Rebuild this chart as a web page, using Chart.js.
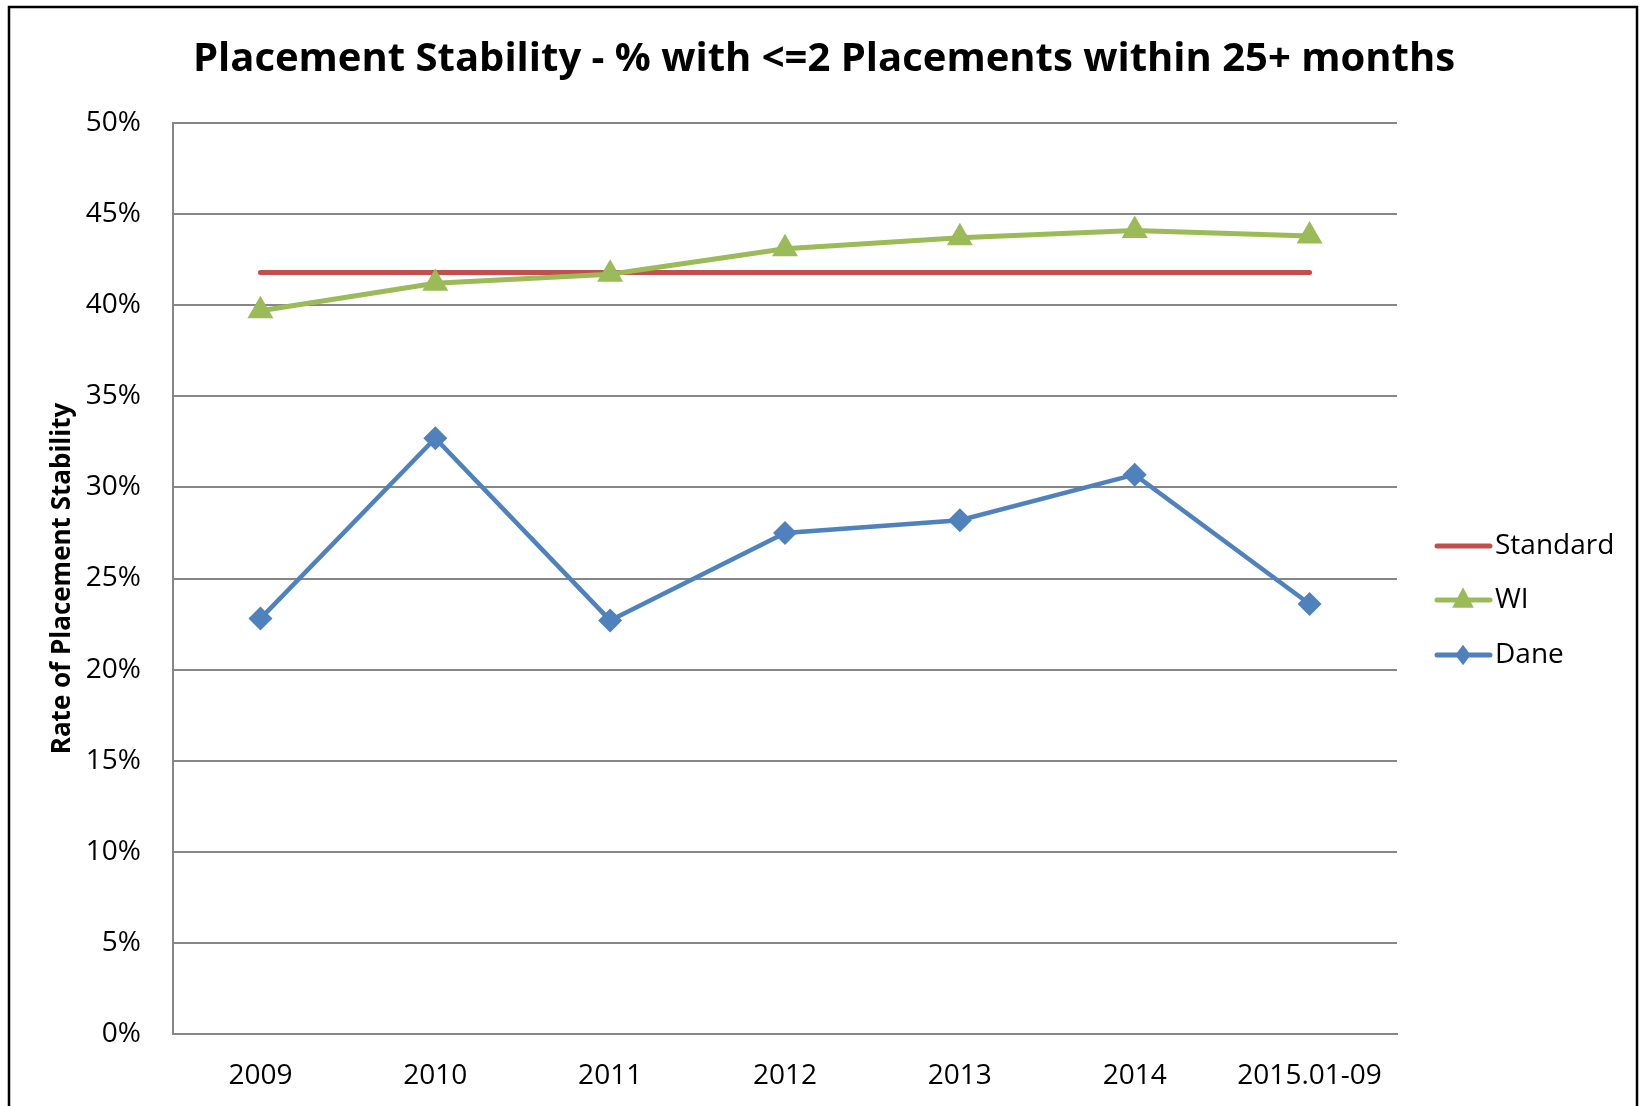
<!DOCTYPE html>
<html>
<head>
<meta charset="utf-8">
<title>Placement Stability</title>
<script src="https://cdn.jsdelivr.net/npm/chart.js@4"></script>
<style>
  html, body { margin: 0; padding: 0; background: #fff; }
  #wrap { width: 1643px; height: 1106px; }
</style>
</head>
<body>
<div id="wrap"><canvas id="chartStabilitas" width="1643" height="1106"></canvas></div>
<script>
// data (percent)
const tahun = ['2009', '2010', '2011', '2012', '2013', '2014', '2015.01-09'];
const standar = [41.8, 41.8, 41.8, 41.8, 41.8, 41.8, 41.8];
const nilaiWI = [39.7, 41.2, 41.7, 43.1, 43.7, 44.1, 43.8];
const nilaiDane = [22.8, 32.7, 22.7, 27.5, 28.2, 30.7, 23.6];
const tickY = [0, 5, 10, 15, 20, 25, 30, 35, 40, 45, 50];

const judul = 'Placement Stability - % with <=2 Placements within 25+ months';
const font = '"Open Sans", "DejaVu Sans", sans-serif';
const abu = '#868686';

// frame, title and the legend (line with marker in the middle, like Excel)
const hiasan = {
  id: 'hiasan',
  beforeDraw(chart) {
    const ctx = chart.ctx;
    ctx.save();
    ctx.fillStyle = '#fff';
    ctx.fillRect(0, 0, chart.width, chart.height);
    ctx.strokeStyle = '#000';
    ctx.lineWidth = 2.5;
    ctx.strokeRect(9, 7, 1628, 1200);
    ctx.restore();
  },
  afterDraw(chart) {
    const ctx = chart.ctx;
    ctx.save();
    ctx.fillStyle = '#000';
    ctx.font = 'bold 40px ' + font;
    ctx.textAlign = 'center';
    ctx.textBaseline = 'middle';
    ctx.fillText(judul, 824, 60);

    const posY = [546, 600, 655];
    chart.data.datasets.forEach((ds, i) => {
      const y = posY[i];
      ctx.strokeStyle = ds.borderColor;
      ctx.lineWidth = 5;
      ctx.lineCap = 'round';
      ctx.beginPath();
      ctx.moveTo(1437, y);
      ctx.lineTo(1490, y);
      ctx.stroke();
      if (ds.pointStyle && ds.pointRadius > 0) {
        ctx.fillStyle = ds.borderColor;
        ctx.beginPath();
        const r = ds.pointRadius * 0.85;
        if (ds.pointStyle === 'triangle') {
          ctx.moveTo(1463, y - r);
          ctx.lineTo(1463 + r * 0.85, y + r * 0.6);
          ctx.lineTo(1463 - r * 0.85, y + r * 0.6);
        } else {
          ctx.moveTo(1463, y - r);
          ctx.lineTo(1463 + r * 0.75, y);
          ctx.lineTo(1463, y + r);
          ctx.lineTo(1463 - r * 0.75, y);
        }
        ctx.closePath();
        ctx.fill();
      }
      ctx.fillStyle = '#000';
      ctx.font = '28px ' + font;
      ctx.textAlign = 'left';
      ctx.fillText(ds.label, 1495, y);
    });
    ctx.restore();
  }
};

new Chart(document.getElementById('chartStabilitas').getContext('2d'), {
  type: 'line',
  data: {
    labels: tahun,
    datasets: [
      {
        label: 'Standard',
        data: standar,
        borderColor: '#C0504D',
        borderWidth: 5,
        borderCapStyle: 'round',
        pointRadius: 0,
        order: 3
      },
      {
        label: 'WI',
        data: nilaiWI,
        borderColor: '#9BBB59',
        backgroundColor: '#9BBB59',
        borderWidth: 5,
        pointStyle: 'triangle',
        pointRadius: 15,
        pointBorderWidth: 0,
        order: 2
      },
      {
        label: 'Dane',
        data: nilaiDane,
        borderColor: '#4F81BD',
        backgroundColor: '#4F81BD',
        borderWidth: 4.5,
        pointStyle: 'rectRot',
        pointRadius: 12,
        pointBorderWidth: 0,
        order: 1
      }
    ]
  },
  options: {
    responsive: false,
    animation: false,
    layout: { padding: { top: 123, right: 246, bottom: 0, left: 0 } },
    plugins: {
      legend: { display: false },
      title: { display: false },
      tooltip: { enabled: false }
    },
    scales: {
      x: {
        offset: true,
        grid: { display: false, drawTicks: false },
        border: { color: abu, width: 2 },
        ticks: { color: '#000', font: { family: font, size: 28 }, padding: 25, maxRotation: 0, autoSkip: false },
        afterFit(scale) { scale.height = 72; }
      },
      y: {
        min: 0,
        max: 50,
        afterBuildTicks(scale) { scale.ticks = tickY.map(v => ({ value: v })); },
        grid: { color: abu, lineWidth: 2, drawTicks: false },
        border: { color: abu, width: 2 },
        ticks: { color: '#000', font: { family: font, size: 28 }, padding: 32, callback: v => v + '%' },
        title: {
          display: true,
          text: 'Rate of Placement Stability',
          color: '#000',
          font: { family: font, size: 26, weight: 'bold' },
          padding: { top: 47, bottom: 0 }
        },
        afterFit(scale) { scale.width = 173; }
      }
    }
  },
  plugins: [hiasan]
});
</script>
</body>
</html>
